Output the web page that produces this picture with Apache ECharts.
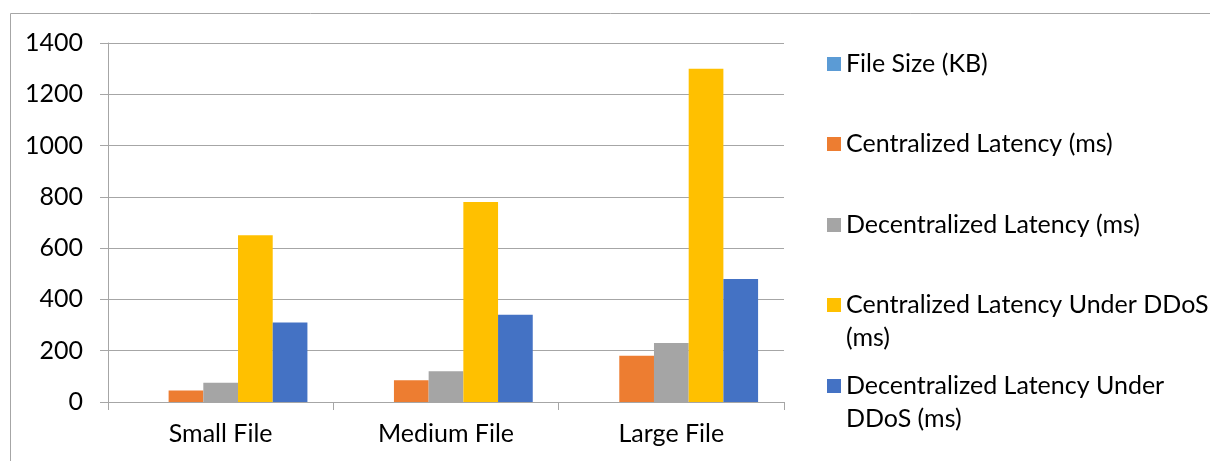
<html style="height: 100%">
<head>
<meta charset="utf-8">
<script src="https://cdn.jsdelivr.net/npm/echarts@6/dist/echarts.min.js"></script>
</head>
<body style="height: 100%; margin: 0; background: #fff">
	<div id="container" style="width: 1210px; height: 461px"></div>
	<script type="text/javascript">
		var categories = ['Small File', 'Medium File', 'Large File'];
		var seriesNames = [
			'File Size (KB)',
			'Centralized Latency (ms)',
			'Decentralized Latency (ms)',
			'Centralized Latency Under DDoS (ms)',
			'Decentralized Latency Under DDoS (ms)'
		];
		// legend text as wrapped in the picture
		var legendLabels = [
			'File Size (KB)',
			'Centralized Latency (ms)',
			'Decentralized Latency (ms)',
			'Centralized Latency Under DDoS\n(ms)',
			'Decentralized Latency Under\nDDoS (ms)'
		];
		var fileSize = [0, 0, 0];
		var centralized = [45, 85, 180];
		var decentralized = [75, 120, 230];
		var centralizedDdos = [650, 780, 1300];
		var decentralizedDdos = [310, 340, 480];
		var yTicks = [0, 200, 400, 600, 800, 1000, 1200, 1400];

		var colors = ['#5B9BD5', '#ED7D31', '#A5A5A5', '#FFC000', '#4472C4'];
		var values = [fileSize, centralized, decentralized, centralizedDdos, decentralizedDdos];
		var font = 'Lato, "Noto Sans", sans-serif';
		var gray = '#a6a6a6';

		var myChart = echarts.init(document.getElementById('container'));

		// one legend per entry; wrapped names get an empty first line so
		// the square sits beside the first line of text
		var legendCenters = [64, 144, 225, 305, 386];
		var legends = seriesNames.map(function (name, i) {
			var wrapped = legendLabels[i].indexOf('\n') >= 0;
			return {
				data: [name],
				orient: 'vertical',
				left: 827,
				top: legendCenters[i] - (wrapped ? 49.5 : 16.5),
				padding: 0,
				itemWidth: 14,
				itemHeight: 14,
				icon: 'rect',
				selectedMode: false,
				formatter: function () { return wrapped ? '\n' + legendLabels[i] : legendLabels[i]; },
				textStyle: {
					fontFamily: font,
					fontSize: 25,
					color: '#000',
					lineHeight: 33
				}
			};
		});

		var option = {
			animation: false,
			color: colors,
			graphic: [{
				type: 'rect',
				shape: { x: 10.5, y: 13.5, width: 1300, height: 600 },
				style: { fill: 'none', stroke: gray, lineWidth: 1 },
				silent: true
			}],
			legend: legends,
			grid: { left: 108, top: 43, right: 426, bottom: 59, containLabel: false },
			xAxis: {
				type: 'category',
				data: categories,
				axisLine: { lineStyle: { color: gray, width: 1 } },
				axisTick: { show: true, length: 8, lineStyle: { color: gray } },
				axisLabel: { fontFamily: font, fontSize: 25, color: '#000', margin: 19 }
			},
			yAxis: {
				type: 'value',
				min: yTicks[0],
				max: yTicks[yTicks.length - 1],
				interval: yTicks[1] - yTicks[0],
				axisLine: { show: true, lineStyle: { color: gray, width: 1 } },
				axisTick: { show: true, length: 8, lineStyle: { color: gray } },
				splitLine: { lineStyle: { color: gray, width: 1 } },
				axisLabel: {
					fontFamily: font, fontSize: 25, color: '#000', margin: 25,
					formatter: function (v) { return String(v); }
				}
			},
			series: seriesNames.map(function (name, i) {
				return {
					name: name,
					type: 'bar',
					data: values[i],
					barGap: '0%',
					barCategoryGap: '23%'
				};
			})
		};

		myChart.setOption(option);
	</script>
</body>
</html>
